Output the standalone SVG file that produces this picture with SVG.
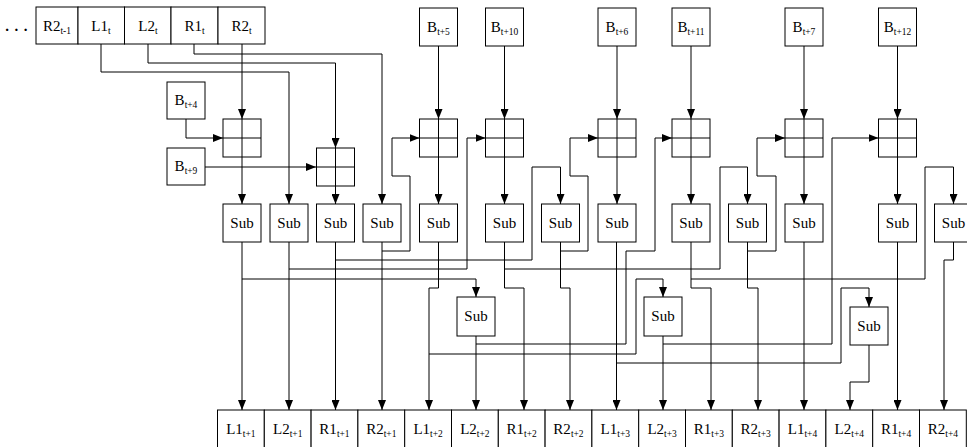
<svg xmlns="http://www.w3.org/2000/svg" width="967" height="447" viewBox="0 0 967 447">
<defs>
<style>
.b{fill:#fff;stroke:#000;stroke-width:1}
.t{font-family:"Liberation Serif","Times New Roman",serif;font-size:15px;fill:#000;text-anchor:middle}
.s{font-size:9.5px}
.c{fill:none;stroke:#000;stroke-width:1}
.x{fill:none;stroke:#000;stroke-width:1}
</style>
<marker id="a" viewBox="0 0 10 8" refX="10" refY="4" markerWidth="10" markerHeight="8" markerUnits="userSpaceOnUse" orient="auto">
<path d="M0,0 L10,4 L0,8 z" fill="#000"/>
</marker>
</defs>
<rect width="967" height="447" fill="#fff"/>

<g id="connectors">
<g class="c" marker-end="url(#a)">
<path d="M242,44 V119"/>
<path d="M101,44 V72 H289 V204"/>
<path d="M148,44 V63 H335.5 V148"/>
<path d="M194,44 V54 H382 V204"/>
<path d="M186,119 V138 H223"/>
<path d="M205,167 H316"/>
<path d="M438.5,46 V119"/>
<path d="M504.5,46 V119"/>
<path d="M617,46 V119"/>
<path d="M691,46 V119"/>
<path d="M804,46 V119"/>
<path d="M897.5,46 V119"/>
<path d="M242,157 V204"/>
<path d="M335.5,186 V204"/>
<path d="M438.5,157 V204"/>
<path d="M504.5,157 V204"/>
<path d="M617,157 V204"/>
<path d="M691,157 V204"/>
<path d="M804,157 V204"/>
<path d="M897.5,157 V204"/>
<path d="M382,251 H410 V176 H392 V138 H419.5"/>
<path d="M289,269 H467 V138 H485.5"/>
<path d="M560.5,251 H588 V176 H570 V138 H598"/>
<path d="M476,344 H626 V251 H655 V138 H672"/>
<path d="M747.5,251 H776 V176 H757 V138 H785"/>
<path d="M663,344 H832 V138 H878.5"/>
<path d="M335.5,260 H532 V167 H560.5 V204"/>
<path d="M504.5,269 H720 V167 H747.5 V204"/>
<path d="M691,279 H925 V167 H953.5 V204"/>
<path d="M242,279 H476 V297"/>
<path d="M429,354 H636 V279 H663 V297"/>
<path d="M616.5,363 H841 V288 H869 V307"/>
<path d="M242,242 V410"/>
<path d="M289,242 V410"/>
<path d="M335.5,242 V410"/>
<path d="M382,242 V410"/>
<path d="M438.5,242 V288 H429 V410"/>
<path d="M476,336 V410"/>
<path d="M504.5,242 V288 H524 V410"/>
<path d="M560.5,242 V288 H570 V410"/>
<path d="M616.5,242 V410"/>
<path d="M663,336 V410"/>
<path d="M691,242 V288 H711 V410"/>
<path d="M747.5,242 V288 H758 V410"/>
<path d="M804,242 V410"/>
<path d="M869,345 V382 H850 V410"/>
<path d="M897.5,242 V410"/>
<path d="M953.5,242 V260 H944 V410"/>
</g>
</g>

<g id="dots"><text class="t" x="19" y="31" style="font-weight:bold;letter-spacing:5.5px">...</text></g>

<g id="top-R2t-1"><rect class="b" x="36" y="7" width="42" height="37"/><text class="t" x="57" y="31">R2<tspan class="s" dy="3">t-1</tspan></text></g>
<g id="top-L1t"><rect class="b" x="78" y="7" width="46.5" height="37"/><text class="t" x="101" y="31">L1<tspan class="s" dy="3">t</tspan></text></g>
<g id="top-L2t"><rect class="b" x="124.5" y="7" width="46.5" height="37"/><text class="t" x="148" y="31">L2<tspan class="s" dy="3">t</tspan></text></g>
<g id="top-R1t"><rect class="b" x="171" y="7" width="47" height="37"/><text class="t" x="194.5" y="31">R1<tspan class="s" dy="3">t</tspan></text></g>
<g id="top-R2t"><rect class="b" x="218" y="7" width="47" height="37"/><text class="t" x="241.5" y="31">R2<tspan class="s" dy="3">t</tspan></text></g>

<g id="B4"><rect class="b" x="167" y="82" width="38" height="37"/><text class="t" x="186" y="105">B<tspan class="s" dy="3">t+4</tspan></text></g>
<g id="B9"><rect class="b" x="167" y="148" width="38" height="37"/><text class="t" x="186" y="171">B<tspan class="s" dy="3">t+9</tspan></text></g>
<g id="B5"><rect class="b" x="419.5" y="8" width="38" height="38"/><text class="t" x="438.5" y="32">B<tspan class="s" dy="3">t+5</tspan></text></g>
<g id="B10"><rect class="b" x="485.5" y="8" width="38" height="38"/><text class="t" x="504.5" y="32">B<tspan class="s" dy="3">t+10</tspan></text></g>
<g id="B6"><rect class="b" x="598" y="8" width="38" height="38"/><text class="t" x="617" y="32">B<tspan class="s" dy="3">t+6</tspan></text></g>
<g id="B11"><rect class="b" x="672" y="8" width="38" height="38"/><text class="t" x="691" y="32">B<tspan class="s" dy="3">t+11</tspan></text></g>
<g id="B7"><rect class="b" x="785" y="8" width="38" height="38"/><text class="t" x="804" y="32">B<tspan class="s" dy="3">t+7</tspan></text></g>
<g id="B12"><rect class="b" x="878.5" y="8" width="38" height="38"/><text class="t" x="897.5" y="32">B<tspan class="s" dy="3">t+12</tspan></text></g>

<g id="add1"><rect class="b" x="223" y="119" width="38" height="38"/><path class="x" d="M223,138 H261 M242,119 V157"/></g>
<g id="add2"><rect class="b" x="316.5" y="148" width="38" height="38"/><path class="x" d="M316.5,167 H354.5 M335.5,148 V186"/></g>
<g id="add3"><rect class="b" x="419.5" y="119" width="38" height="38"/><path class="x" d="M419.5,138 H457.5 M438.5,119 V157"/></g>
<g id="add4"><rect class="b" x="485.5" y="119" width="38" height="38"/><path class="x" d="M485.5,138 H523.5 M504.5,119 V157"/></g>
<g id="add5"><rect class="b" x="598" y="119" width="38" height="38"/><path class="x" d="M598,138 H636 M617,119 V157"/></g>
<g id="add6"><rect class="b" x="672" y="119" width="38" height="38"/><path class="x" d="M672,138 H710 M691,119 V157"/></g>
<g id="add7"><rect class="b" x="785" y="119" width="38" height="38"/><path class="x" d="M785,138 H823 M804,119 V157"/></g>
<g id="add8"><rect class="b" x="878.5" y="119" width="38" height="38"/><path class="x" d="M878.5,138 H916.5 M897.5,119 V157"/></g>

<g id="sub1"><rect class="b" x="223" y="204" width="38" height="38"/><text class="t" x="242" y="228">Sub</text></g>
<g id="sub2"><rect class="b" x="270" y="204" width="38" height="38"/><text class="t" x="289" y="228">Sub</text></g>
<g id="sub3"><rect class="b" x="316.5" y="204" width="38" height="38"/><text class="t" x="335.5" y="228">Sub</text></g>
<g id="sub4"><rect class="b" x="363" y="204" width="38" height="38"/><text class="t" x="382" y="228">Sub</text></g>
<g id="sub5"><rect class="b" x="419.5" y="204" width="38" height="38"/><text class="t" x="438.5" y="228">Sub</text></g>
<g id="sub6"><rect class="b" x="485.5" y="204" width="38" height="38"/><text class="t" x="504.5" y="228">Sub</text></g>
<g id="sub7"><rect class="b" x="541.5" y="204" width="38" height="38"/><text class="t" x="560.5" y="228">Sub</text></g>
<g id="sub8"><rect class="b" x="598" y="204" width="38" height="38"/><text class="t" x="617" y="228">Sub</text></g>
<g id="sub9"><rect class="b" x="672" y="204" width="38" height="38"/><text class="t" x="691" y="228">Sub</text></g>
<g id="sub10"><rect class="b" x="728.5" y="204" width="38" height="38"/><text class="t" x="747.5" y="228">Sub</text></g>
<g id="sub11"><rect class="b" x="785" y="204" width="38" height="38"/><text class="t" x="804" y="228">Sub</text></g>
<g id="sub12"><rect class="b" x="878.5" y="204" width="38" height="38"/><text class="t" x="897.5" y="228">Sub</text></g>
<g id="sub13"><rect class="b" x="934.5" y="204" width="38" height="38"/><text class="t" x="953.5" y="228">Sub</text></g>
<g id="subA"><rect class="b" x="457" y="297" width="38" height="39"/><text class="t" x="476" y="321">Sub</text></g>
<g id="subB"><rect class="b" x="644" y="297" width="38" height="39"/><text class="t" x="663" y="321">Sub</text></g>
<g id="subC"><rect class="b" x="850" y="307" width="38" height="38"/><text class="t" x="869" y="331">Sub</text></g>

<g id="out-L1t1"><rect class="b" x="217.5" y="410" width="46.8" height="40"/><text class="t" x="240.9" y="434">L1<tspan class="s" dy="3">t+1</tspan></text></g>
<g id="out-L2t1"><rect class="b" x="264.3" y="410" width="46.8" height="40"/><text class="t" x="287.7" y="434">L2<tspan class="s" dy="3">t+1</tspan></text></g>
<g id="out-R1t1"><rect class="b" x="311.1" y="410" width="46.8" height="40"/><text class="t" x="334.5" y="434">R1<tspan class="s" dy="3">t+1</tspan></text></g>
<g id="out-R2t1"><rect class="b" x="357.9" y="410" width="46.8" height="40"/><text class="t" x="381.3" y="434">R2<tspan class="s" dy="3">t+1</tspan></text></g>
<g id="out-L1t2"><rect class="b" x="404.7" y="410" width="46.8" height="40"/><text class="t" x="428.1" y="434">L1<tspan class="s" dy="3">t+2</tspan></text></g>
<g id="out-L2t2"><rect class="b" x="451.5" y="410" width="46.8" height="40"/><text class="t" x="474.9" y="434">L2<tspan class="s" dy="3">t+2</tspan></text></g>
<g id="out-R1t2"><rect class="b" x="498.3" y="410" width="46.8" height="40"/><text class="t" x="521.7" y="434">R1<tspan class="s" dy="3">t+2</tspan></text></g>
<g id="out-R2t2"><rect class="b" x="545.1" y="410" width="46.8" height="40"/><text class="t" x="568.5" y="434">R2<tspan class="s" dy="3">t+2</tspan></text></g>
<g id="out-L1t3"><rect class="b" x="591.9" y="410" width="46.8" height="40"/><text class="t" x="615.3" y="434">L1<tspan class="s" dy="3">t+3</tspan></text></g>
<g id="out-L2t3"><rect class="b" x="638.7" y="410" width="46.8" height="40"/><text class="t" x="662.1" y="434">L2<tspan class="s" dy="3">t+3</tspan></text></g>
<g id="out-R1t3"><rect class="b" x="685.5" y="410" width="46.8" height="40"/><text class="t" x="708.9" y="434">R1<tspan class="s" dy="3">t+3</tspan></text></g>
<g id="out-R2t3"><rect class="b" x="732.3" y="410" width="46.8" height="40"/><text class="t" x="755.7" y="434">R2<tspan class="s" dy="3">t+3</tspan></text></g>
<g id="out-L1t4"><rect class="b" x="779.1" y="410" width="46.8" height="40"/><text class="t" x="802.5" y="434">L1<tspan class="s" dy="3">t+4</tspan></text></g>
<g id="out-L2t4"><rect class="b" x="825.9" y="410" width="46.8" height="40"/><text class="t" x="849.3" y="434">L2<tspan class="s" dy="3">t+4</tspan></text></g>
<g id="out-R1t4"><rect class="b" x="872.7" y="410" width="46.8" height="40"/><text class="t" x="896.1" y="434">R1<tspan class="s" dy="3">t+4</tspan></text></g>
<g id="out-R2t4"><rect class="b" x="919.5" y="410" width="46.8" height="40"/><text class="t" x="942.9" y="434">R2<tspan class="s" dy="3">t+4</tspan></text></g>
</svg>
